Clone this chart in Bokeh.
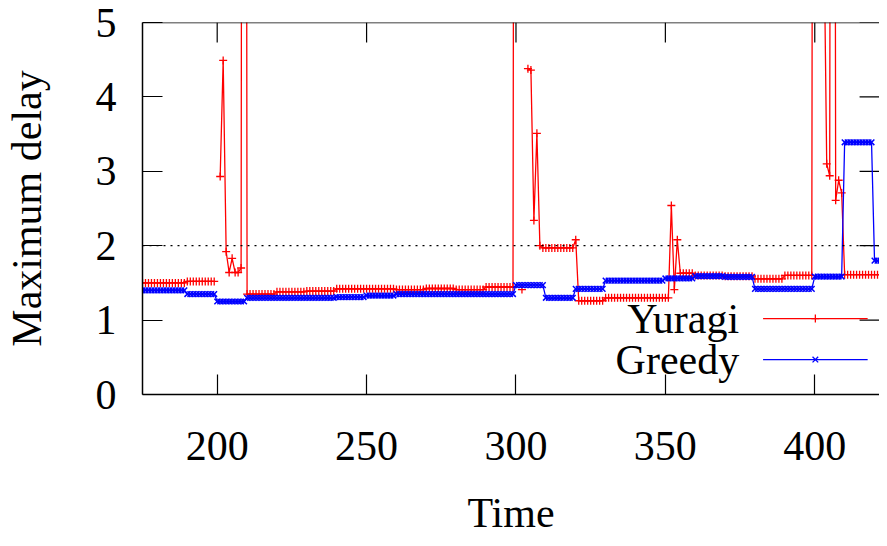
import math
from bokeh.plotting import figure
from bokeh.models import Range1d, FixedTicker, Span, Label
from bokeh.embed import file_html
from bokeh.resources import INLINE

nan = float("nan")

# ---------------- data ----------------
time = list(range(175, 425))

yuragi = [
    # 175-184
    1.50, 1.50, 1.50, 1.50, 1.50, 1.50, 1.50, 1.50, 1.50, 1.50,
    # 185-194
    1.50, 1.50, 1.50, 1.50, 1.50, 1.52, 1.52, 1.52, 1.52, 1.52,
    # 195-204
    1.52, 1.52, 1.52, 1.52, 1.52, nan, 2.93, 4.49, 1.92, 1.64,
    # 205-214
    1.83, 1.64, 1.64, 1.70, 35.0, 1.35, 1.35, 1.35, 1.35, 1.35,
    # 215-224
    1.35, 1.35, 1.35, 1.35, 1.35, 1.38, 1.38, 1.38, 1.38, 1.38,
    # 225-234
    1.38, 1.38, 1.38, 1.38, 1.38, 1.39, 1.39, 1.39, 1.39, 1.39,
    # 235-244
    1.39, 1.39, 1.39, 1.39, 1.39, 1.42, 1.42, 1.42, 1.42, 1.42,
    # 245-254
    1.42, 1.42, 1.42, 1.42, 1.42, 1.42, 1.42, 1.42, 1.42, 1.42,
    # 255-264
    1.42, 1.42, 1.42, 1.42, 1.42, 1.41, 1.41, 1.41, 1.41, 1.41,
    # 265-274
    1.41, 1.41, 1.41, 1.41, 1.41, 1.425, 1.425, 1.425, 1.425, 1.425,
    # 275-284
    1.425, 1.425, 1.425, 1.425, 1.425, 1.41, 1.41, 1.41, 1.41, 1.41,
    # 285-294
    1.41, 1.41, 1.41, 1.41, 1.41, 1.445, 1.445, 1.445, 1.445, 1.445,
    # 295-304
    1.445, 1.445, 1.445, 1.445, 1.445, 30.0, nan, 1.41, nan, 4.38,
    # 305-314
    4.36, 2.34, 3.51, 2.00, 1.97, 1.97, 1.97, 1.97, 1.97, 1.97,
    # 315-324
    1.97, 1.97, 1.97, 1.97, 1.97, 2.08, 1.26, 1.26, 1.26, 1.26,
    # 325-334
    1.26, 1.26, 1.26, 1.26, 1.26, 1.30, 1.30, 1.30, 1.30, 1.30,
    # 335-344
    1.30, 1.30, 1.30, 1.30, 1.30, 1.30, 1.30, 1.30, 1.30, 1.30,
    # 345-354
    1.30, 1.30, 1.30, 1.30, 1.30, 1.30, 1.30, 2.54, 1.41, 2.08,
    # 355-364
    1.63, 1.63, 1.63, 1.63, 1.63, 1.60, 1.60, 1.60, 1.60, 1.60,
    # 365-374
    1.60, 1.60, 1.60, 1.60, 1.60, 1.59, 1.59, 1.59, 1.59, 1.59,
    # 375-384
    1.59, 1.59, 1.59, 1.59, 1.59, 1.555, 1.555, 1.555, 1.555, 1.555,
    # 385-394
    1.555, 1.555, 1.555, 1.555, 1.555, 1.60, 1.60, 1.60, 1.60, 1.60,
    # 395-404
    1.60, 1.60, 1.60, 1.60, 1.60, 30.0, 30.0, 30.0, 6.5, 3.10,
    # 405-414
    2.94, 30.0, 2.61, 2.88, 2.71, 1.61, 1.61, 1.61, 1.61, 1.61,
    # 415-424
    1.61, 1.61, 1.61, 1.61, 1.61, 1.61, 1.61, 1.61, 1.61, 1.61,
]

greedy = [
    # 175-184
    1.40, 1.40, 1.40, 1.40, 1.40, 1.40, 1.40, 1.40, 1.40, 1.40,
    # 185-194
    1.40, 1.40, 1.40, 1.40, 1.40, 1.35, 1.35, 1.35, 1.35, 1.35,
    # 195-204
    1.35, 1.35, 1.35, 1.35, 1.35, 1.25, 1.25, 1.25, 1.25, 1.25,
    # 205-214
    1.25, 1.25, 1.25, 1.25, 1.25, 1.30, 1.30, 1.30, 1.30, 1.30,
    # 215-224
    1.30, 1.30, 1.30, 1.30, 1.30, 1.30, 1.30, 1.30, 1.30, 1.30,
    # 225-234
    1.30, 1.30, 1.30, 1.30, 1.30, 1.30, 1.30, 1.30, 1.30, 1.30,
    # 235-244
    1.30, 1.30, 1.30, 1.30, 1.30, 1.31, 1.31, 1.31, 1.31, 1.31,
    # 245-254
    1.31, 1.31, 1.31, 1.31, 1.31, 1.33, 1.33, 1.33, 1.33, 1.33,
    # 255-264
    1.33, 1.33, 1.33, 1.33, 1.33, 1.35, 1.35, 1.35, 1.35, 1.35,
    # 265-274
    1.35, 1.35, 1.35, 1.35, 1.35, 1.35, 1.35, 1.35, 1.35, 1.35,
    # 275-284
    1.35, 1.35, 1.35, 1.35, 1.35, 1.35, 1.35, 1.35, 1.35, 1.35,
    # 285-294
    1.35, 1.35, 1.35, 1.35, 1.35, 1.35, 1.35, 1.35, 1.35, 1.35,
    # 295-304
    1.35, 1.35, 1.35, 1.35, 1.35, 1.47, 1.47, 1.47, 1.47, 1.47,
    # 305-314
    1.47, 1.47, 1.47, 1.47, 1.47, 1.30, 1.30, 1.30, 1.30, 1.30,
    # 315-324
    1.30, 1.30, 1.30, 1.30, 1.30, 1.42, 1.42, 1.42, 1.42, 1.42,
    # 325-334
    1.42, 1.42, 1.42, 1.42, 1.42, 1.53, 1.53, 1.53, 1.53, 1.53,
    # 335-344
    1.53, 1.53, 1.53, 1.53, 1.53, 1.53, 1.53, 1.53, 1.53, 1.53,
    # 345-354
    1.53, 1.53, 1.53, 1.53, 1.53, 1.56, 1.56, 1.56, 1.56, 1.56,
    # 355-364
    1.56, 1.56, 1.56, 1.56, 1.56, 1.59, 1.59, 1.59, 1.59, 1.59,
    # 365-374
    1.59, 1.59, 1.59, 1.59, 1.59, 1.58, 1.58, 1.58, 1.58, 1.58,
    # 375-384
    1.58, 1.58, 1.58, 1.58, 1.58, 1.42, 1.42, 1.42, 1.42, 1.42,
    # 385-394
    1.42, 1.42, 1.42, 1.42, 1.42, 1.42, 1.42, 1.42, 1.42, 1.42,
    # 395-404
    1.42, 1.42, 1.42, 1.42, 1.42, 1.585, 1.585, 1.585, 1.585, 1.585,
    # 405-414
    1.585, 1.585, 1.585, 1.585, 1.585, 3.39, 3.39, 3.39, 3.39, 3.39,
    # 415-424
    3.39, 3.39, 3.39, 3.39, 3.39, 1.80, 1.80, 1.80, 1.80, 1.80,
]

series_names = ["Yuragi", "Greedy"]
x_ticks = [200, 250, 300, 350, 400]
y_ticks = [0, 1, 2, 3, 4, 5]
threshold = 2.0
x_title = "Time"
y_title = "Maximum delay"

# ---------------- layout / styling ----------------
FONT = "Liberation Serif"
FS = "42px"
RED = "#ff0000"
BLUE = "#0000ff"

W, H = 879, 538
LEFT, TOP, BOTTOM = 139, 22, 144
X0, Y0, Y1 = 175.0, 0.0, 5.0
PX_PER_X = 3.0                     # pixels per time unit in the reference
X1 = X0 + (W - LEFT) / PX_PER_X
TICK = 20                          # inward tick length, pixels
frame_h = H - TOP - BOTTOM
px_per_y = frame_h / (Y1 - Y0)
tick_dx = TICK / PX_PER_X
tick_dy = TICK / px_per_y

p = figure(
    width=W, height=H,
    output_backend="svg", toolbar_location=None,
    x_range=Range1d(X0, X1), y_range=Range1d(Y0, Y1),
    min_border_left=LEFT, min_border_right=0,
    min_border_top=TOP, min_border_bottom=BOTTOM,
    x_axis_label=x_title, y_axis_label=y_title,
)
p.grid.visible = False
p.outline_line_color = None
p.background_fill_color = "white"
p.border_fill_color = "white"

for ax in (p.xaxis[0], p.yaxis[0]):
    ax.axis_line_color = "black"
    ax.axis_line_width = 1.5
    ax.major_tick_line_color = "black"
    ax.major_tick_line_width = 1.2
    ax.major_tick_in = TICK
    ax.major_tick_out = 0
    ax.minor_tick_line_color = None
    ax.major_label_text_font = FONT
    ax.major_label_text_font_size = FS
    ax.major_label_text_color = "black"
    ax.axis_label_text_font = FONT
    ax.axis_label_text_font_size = FS
    ax.axis_label_text_font_style = "normal"
    ax.axis_label_text_color = "black"

p.xaxis[0].ticker = FixedTicker(ticks=x_ticks)
p.yaxis[0].ticker = FixedTicker(ticks=y_ticks)
p.xaxis[0].major_label_standoff = 37
p.xaxis[0].axis_label_standoff = 27
p.yaxis[0].major_label_standoff = 26
p.yaxis[0].axis_label_standoff = 43

# top border and mirrored ticks (gnuplot style)
p.add_layout(Span(location=Y1, dimension="width", line_color="black", line_width=1.5))
p.segment(x0=x_ticks, x1=x_ticks, y0=[Y1] * len(x_ticks),
          y1=[Y1 - tick_dy] * len(x_ticks), line_color="black", line_width=1.2)
p.segment(x0=[X1] * len(y_ticks), x1=[X1 - tick_dx] * len(y_ticks),
          y0=y_ticks, y1=y_ticks, line_color="black", line_width=1.2)

# threshold dotted line
p.add_layout(Span(location=threshold, dimension="width", line_color="black",
                  line_width=1.3, line_dash="2 5"))

# series
p.line(time, yuragi, line_color=RED, line_width=1.3)
p.scatter(time, yuragi, marker="cross", size=8, line_color=RED, line_width=1.3)
p.line(time, greedy, line_color=BLUE, line_width=1.3)
p.scatter(time, greedy, marker="x", size=8, line_color=BLUE, line_width=1.5)

# key (gnuplot style: text on the left, sample on the right)
key_text_x = 374.7
key_line_x0, key_line_x1 = 382.7, 417.7
key_y = [1.02, 0.47]
key_colors = [RED, BLUE]
key_markers = ["cross", "x"]
for name, ky, col, mk in zip(series_names, key_y, key_colors, key_markers):
    p.add_layout(Label(x=key_text_x, y=ky, text=name, text_align="right",
                       text_baseline="middle", text_font=FONT,
                       text_font_size=FS, text_color="black"))
    p.line([key_line_x0, key_line_x1], [ky, ky], line_color=col, line_width=1.3)
    p.scatter([(key_line_x0 + key_line_x1) / 2], [ky], marker=mk, size=8,
              line_color=col, line_width=1.3)

open("out.html", "w").write(file_html(p, INLINE))
